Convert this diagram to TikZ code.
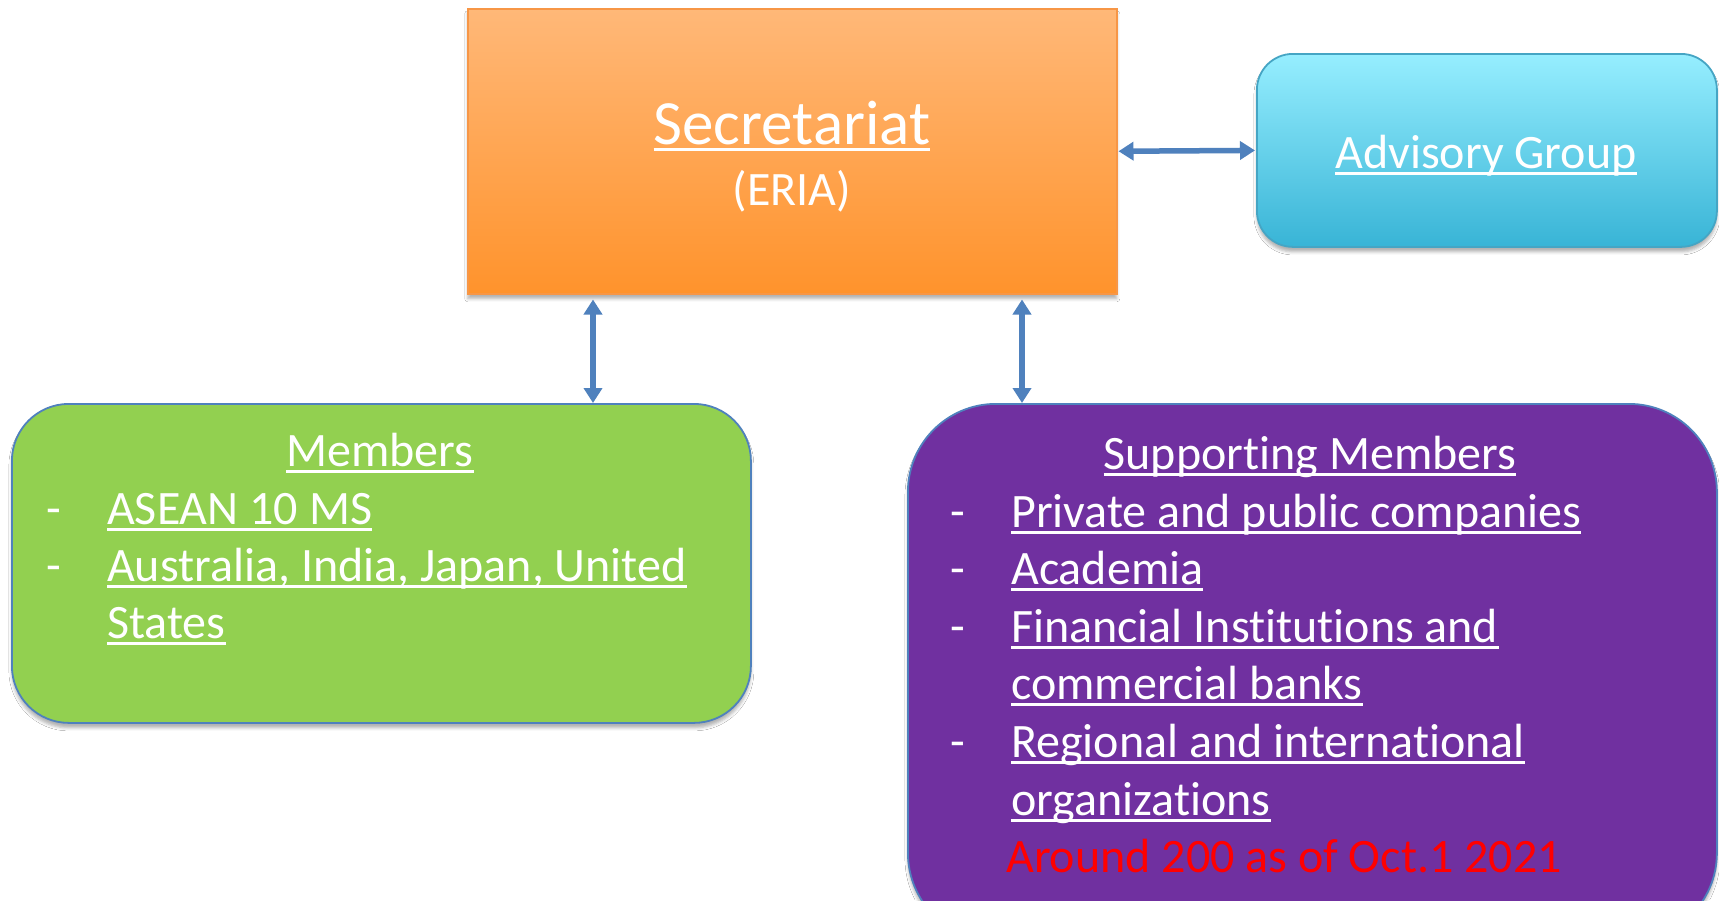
\documentclass[tikz,border=0pt]{standalone}
\usepackage{fontspec}
\setmainfont{Carlito}[Ligatures={NoCommon,NoContextual},Contextuals=NoAlternate]
\usetikzlibrary{arrows.meta,shadows.blur}
\definecolor{arrblue}{HTML}{4F81BD}
\definecolor{orTop}{HTML}{FFB878}
\definecolor{orBot}{HTML}{FF932C}
\definecolor{orLine}{HTML}{F79646}
\definecolor{cyTop}{HTML}{96EEFF}
\definecolor{cyBot}{HTML}{38B4D6}
\definecolor{cyLine}{HTML}{45A5C4}
\definecolor{grFill}{HTML}{92D050}
\definecolor{puFill}{HTML}{7030A0}
\newcommand\myul[1]{\setbox0=\hbox{#1}\rlap{\rule[-6.5pt]{\wd0}{2.6pt}}\box0}
\newcommand\ti{t\kern0pt i}
\begin{document}
\begin{tikzpicture}[x=1pt,y=-1pt,
  shad/.style={blur shadow={shadow xshift=0pt,shadow yshift=-5pt,shadow blur radius=3pt,shadow opacity=30}},
  boxbase/.style={anchor=north west,inner sep=0pt,shad},
  secbox/.style={boxbase,draw=orLine,line width=1.5pt,top color=orTop,bottom color=orBot},
  advbox/.style={boxbase,draw=cyLine,line width=1.8pt,top color=cyTop,bottom color=cyBot,rounded corners=36pt},
  membox/.style={boxbase,draw=arrblue,line width=1.8pt,fill=grFill,rounded corners=57pt},
  supbox/.style={boxbase,draw=arrblue,line width=1.8pt,fill=puFill,rounded corners=88pt},
  txt/.style={inner sep=0pt,text=white,font=\fontsize{48}{58}\selectfont},
  ctxt/.style={txt,anchor=base},
  ltxt/.style={txt,anchor=base west},
  redtxt/.style={ltxt,text=red},
  arr/.style={draw=arrblue,line width=5.5pt,{Triangle[width=18pt,length=15pt]}-{Triangle[width=18pt,length=15pt]}}
]
\useasboundingbox (0,0) rectangle (1719,900);
\fill[white] (0,0) rectangle (1719,900);
\clip (0,0) rectangle (1719,900);

% boxes
\node[secbox,minimum width=649pt,minimum height=285pt] (sec) at (467,8) {};
\node[advbox,minimum width=460pt,minimum height=193pt] (adv) at (1256,53) {};
\node[membox,minimum width=739pt,minimum height=319pt] (mem) at (11,403) {};
\node[supbox,minimum width=809pt,minimum height=537pt] (sup) at (907,403) {};

% connectors
\draw[arr] ([xshift=1pt]sec.east) -- ([xshift=-1pt]adv.west);
\draw[arr] ([xshift=126pt,yshift=-5pt]sec.south west) -- ([xshift=126pt]sec.south west |- mem.north);
\draw[arr] ([xshift=555pt,yshift=-5pt]sec.south west) -- ([xshift=555pt]sec.south west |- sup.north);

% secretariat text
\node[ctxt,font=\fontsize{63}{75}\selectfont] (sect) at (792,144) {\myul{Secretariat}};
\node[ctxt] (eria) at (792,205) {(ERIA)};

% advisory text
\node[ctxt] (advt) at (1486,168) {\myul{Advisory Group}};

% members text
\node[ctxt] (memt) at (380,466) {\myul{Members}};
\node[ltxt] (md1) at (46,524) {-};
\node[ltxt] (m1) at (107,524) {\myul{ASEAN 10 MS}};
\node[ltxt] (md2) at (46,581) {-};
\node[ltxt] (m2) at (107,581) {\myul{Australia, India, Japan, United}};
\node[ltxt] (m3) at (107,638) {\myul{States}};

% supporting members text
\node[ctxt] (supt) at (1310,469) {\myul{Suppor\ti ng Members}};
\node[ltxt] (sd1) at (950,527) {-};
\node[ltxt] (s1) at (1011,527) {\myul{Private and public companies}};
\node[ltxt] (sd2) at (950,584) {-};
\node[ltxt] (s2) at (1011,584) {\myul{Academia}};
\node[ltxt] (sd3) at (950,642) {-};
\node[ltxt] (s3) at (1011,642) {\myul{Financial Ins\ti tu\ti ons and}};
\node[ltxt] (s4) at (1011,699) {\myul{commercial banks}};
\node[ltxt] (sd4) at (950,757) {-};
\node[ltxt] (s5) at (1011,757) {\myul{Regional and interna\ti onal}};
\node[ltxt] (s6) at (1011,815) {\myul{organiza\ti ons}};
\node[redtxt] (s7) at (1006,872) {Around 200 as of Oct.1 2021};
\end{tikzpicture}
\end{document}
